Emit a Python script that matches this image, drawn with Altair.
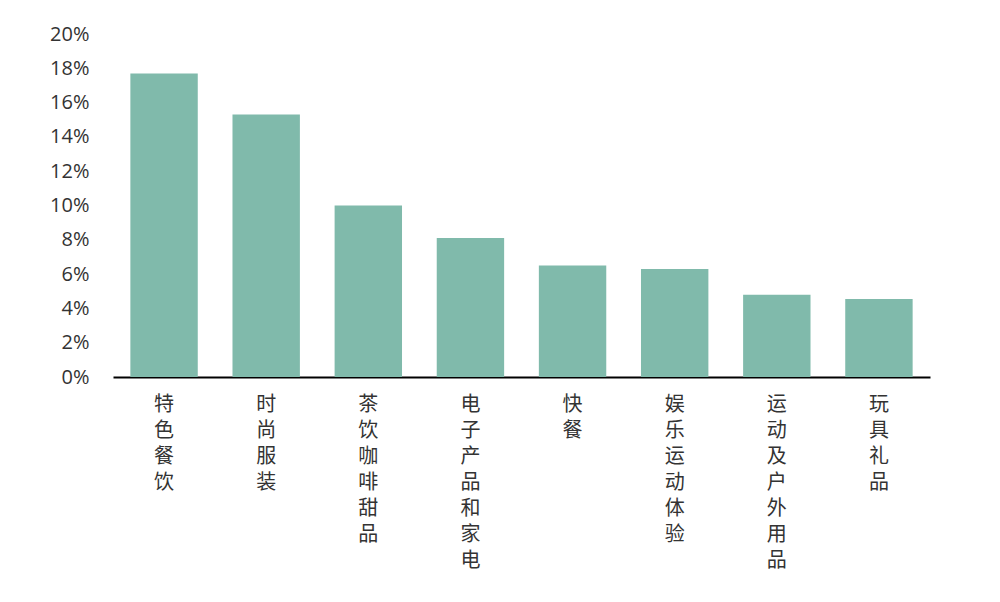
import altair as alt
import pandas as pd

categories = ["特色餐饮", "时尚服装", "茶饮咖啡甜品", "电子产品和家电", "快餐", "娱乐运动体验", "运动及户外用品", "玩具礼品"]
values = [0.177, 0.153, 0.100, 0.081, 0.065, 0.063, 0.048, 0.0455]

df = pd.DataFrame({"cat": categories, "val": values})

chart = alt.Chart(df).mark_bar(color="#80BAAB").encode(
    x=alt.X("cat:N", sort=categories, title=None,
            scale=alt.Scale(paddingInner=0.34, paddingOuter=0.17),
            axis=alt.Axis(labelAngle=0, ticks=False, domainColor="#000000", domainWidth=2,
                          labelExpr="split(datum.label, '')", labelBaseline="top",
                          labelFontSize=20, labelLineHeight=26, labelPadding=17,
                          labelColor="#333333", labelFont="Noto Sans CJK SC")),
    y=alt.Y("val:Q", title=None,
            scale=alt.Scale(domain=[0, 0.2]),
            axis=alt.Axis(format=".0%", values=[i / 50 for i in range(11)], domain=False,
                          ticks=False, grid=False, labelFontSize=20, labelPadding=24,
                          labelColor="#333333", labelFont="Open Sans")),
).properties(
    width=817, height=343,
    autosize=alt.AutoSizeParams(type="none"),
    padding={"left": 105, "top": 26, "right": 60, "bottom": 220},
).configure_view(stroke=None)

chart.save("out.html", embed_options={"renderer": "svg", "actions": False})
